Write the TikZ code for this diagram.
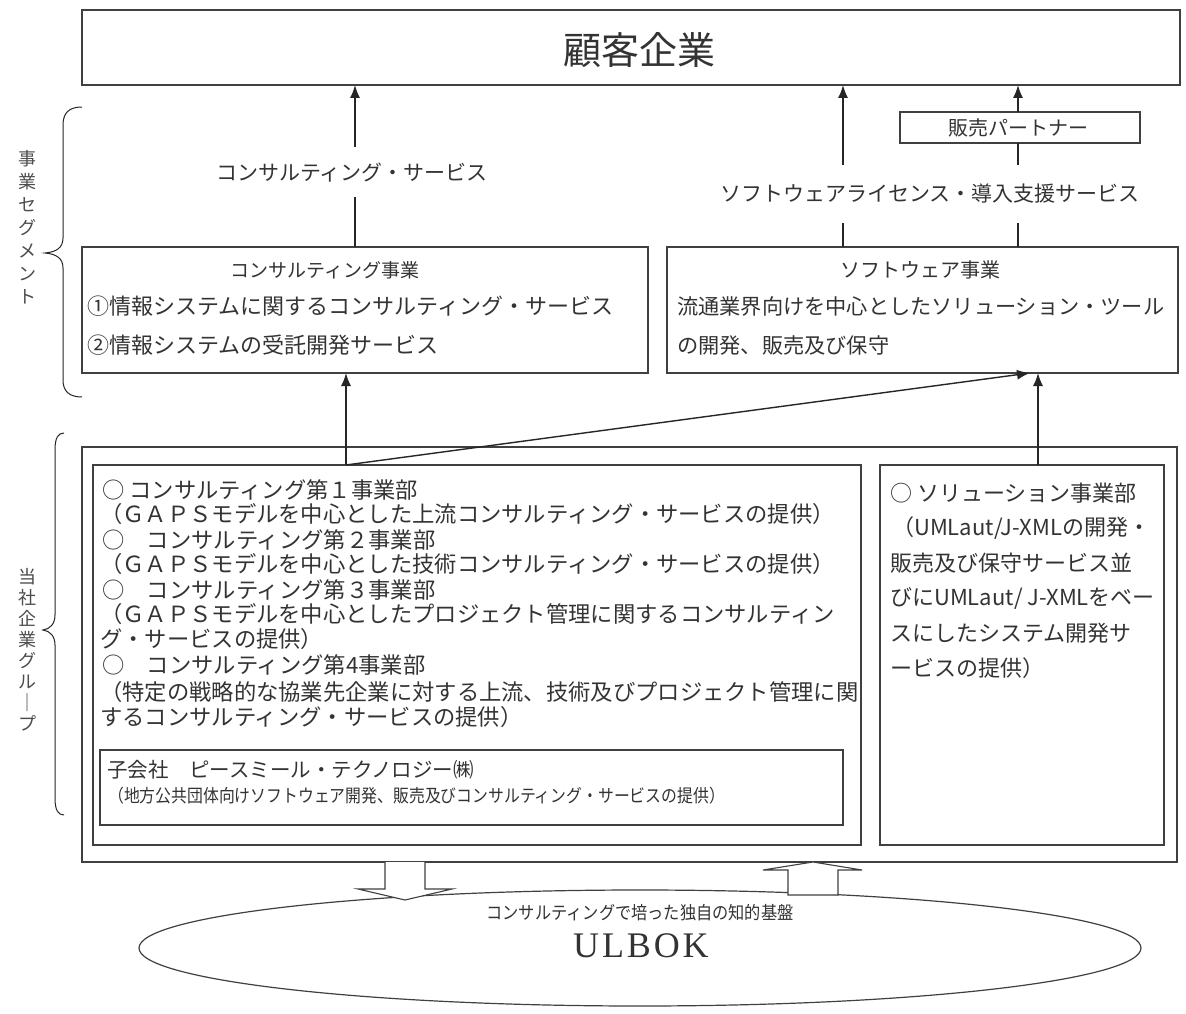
\documentclass[tikz,border=0pt]{standalone}
\usepackage{fontspec}
\usepackage{graphicx}
\setmainfont{Noto Sans CJK JP}
\newfontfamily\ulfont[LetterSpace=8]{Liberation Serif}
\usetikzlibrary{arrows.meta,shapes.geometric,calc}
\newcommand\fsz[1]{\fontsize{#1}{#1}\selectfont}
\tikzset{
  box/.style={draw=black!75, line width=1.3pt, inner sep=0pt, outer sep=0pt},
  txt/.style={text=black!80, inner sep=0pt, anchor=west},
  ctxt/.style={text=black!80, inner sep=0pt, anchor=center},
  ln/.style={draw=black!85, line width=1.4pt},
  arr/.style={ln, -{Latex[length=13pt,width=10pt]}},
  lbl/.style={text=black!80, inner sep=0pt, outer sep=0pt},
  hollow/.style={draw=black!75, line width=1.1pt, fill=white},
}
\begin{document}
\begin{tikzpicture}[x=1pt,y=-1pt]
\fill[white] (0,0) rectangle (1186,1014);
\useasboundingbox (0,0) rectangle (1186,1014);

% ---------- boxes ----------
\node[box, minimum width=1098, minimum height=75] (top) at (631,47.5) {};
\node[ctxt, font=\fsz{38}] (topt) at (639,50) {顧客企業};

\node[box, minimum width=240, minimum height=31] (partner) at (1020,127.5) {};
\node[ctxt, font=\fsz{20}] (partnert) at (1018,127.5) {販売パートナー};

\node[box, minimum width=566, minimum height=126] (cons) at (365,310) {};
\node[ctxt, font=\fsz{19}] (const) at (325,270) {コンサルティング事業};
\node[txt, font=\fsz{22}] (cons1) at (87,306) {①情報システムに関するコンサルティング・サービス};
\node[txt, font=\fsz{22}] (cons2) at (87,345) {②情報システムの受託開発サービス};

\node[box, minimum width=511, minimum height=126] (soft) at (922.5,310) {};
\node[ctxt, font=\fsz{20}] (softt) at (920,270) {ソフトウェア事業};
\node[txt, font=\fsz{21.2}] (soft1) at (677,306) {流通業界向けを中心としたソリューション・ツール};
\node[txt, font=\fsz{21.2}] (soft2) at (677,345) {の開発、販売及び保守};

\node[box, minimum width=1095, minimum height=415] (group) at (629.5,654.5) {};
\node[box, minimum width=768, minimum height=380] (inL) at (477,655) {};
\node[box, minimum width=284, minimum height=380] (inR) at (1022,655) {};
\node[box, minimum width=743, minimum height=75] (sub) at (471.5,787.5) {};

% ---------- left inner text ----------
\begin{scope}[every node/.style={txt, font=\fsz{22.3}}]
\node (l1) at (102,490) {○ コンサルティング第１事業部};
\node (l2) at (100,514) {（ＧＡＰＳモデルを中心とした上流コンサルティング・サービスの提供）};
\node (l3) at (102,540) {○　コンサルティング第２事業部};
\node (l4) at (100,564) {（ＧＡＰＳモデルを中心とした技術コンサルティング・サービスの提供）};
\node (l5) at (102,590) {○　コンサルティング第３事業部};
\node (l6) at (100,614) {（ＧＡＰＳモデルを中心としたプロジェクト管理に関するコンサルティン};
\node (l7) at (100,639) {グ・サービスの提供）};
\node (l8) at (102,665) {○　コンサルティング第4事業部};
\node (l9) at (100,692) {（特定の戦略的な協業先企業に対する上流、技術及びプロジェクト管理に関};
\node (l10) at (100,717) {するコンサルティング・サービスの提供）};
\end{scope}
\node[txt, font=\fsz{20.5}] (s1) at (107,770) {子会社　ピースミール・テクノロジー㈱};
\node[txt, font=\fsz{18}] (s2) at (108,796) {\scalebox{0.88}[1]{（地方公共団体向けソフトウェア開発、販売及びコンサルティング・サービスの提供）}};

% ---------- right inner text ----------
\begin{scope}[every node/.style={txt, font=\fsz{22}}]
\node (r1) at (890,493) {○ ソリューション事業部};
\node (r2) at (892,528) {（UMLaut/J-XMLの開発・};
\node (r3) at (890,563) {販売及び保守サービス並};
\node (r4) at (890,598) {びにUMLaut/ J-XMLをベー};
\node (r5) at (890,633) {スにしたシステム開発サ};
\node (r6) at (890,668) {ービスの提供）};
\end{scope}

% ---------- labels on connectors ----------
\node[lbl, font=\fsz{21}, minimum height=50] (lab1) at (352,172) {コンサルティング・サービス};
\node[lbl, font=\fsz{21}, minimum height=58] (lab2) at (930,194) {ソフトウェアライセンス・導入支援サービス};

% ---------- x positions ----------
\coordinate (xA) at (355,0);
\coordinate (xB) at (346,0);
\coordinate (xS) at (843,0);
\coordinate (xP) at (1018,0);
\coordinate (xC) at (1030,0);
\coordinate (xD) at (1038,0);

% ---------- connectors ----------
\draw[ln] (cons.north -| xA) -- (lab1.south -| xA);
\draw[arr] (lab1.north -| xA) -- (top.south -| xA);

\draw[ln] (soft.north -| xS) -- (lab2.south -| xS);
\draw[arr] (lab2.north -| xS) -- (top.south -| xS);

\draw[ln] (soft.north -| xP) -- (lab2.south -| xP);
\draw[ln] (lab2.north -| xP) -- (partner.south -| xP);
\draw[arr] (partner.north -| xP) -- (top.south -| xP);

\coordinate (src) at (inL.north -| xB);
\draw[arr] (src) -- (cons.south -| xB);
\draw[arr] (src) -- (soft.south -| xC);
\draw[arr] (inR.north -| xD) -- (soft.south -| xD);

% ---------- braces and vertical texts ----------
\draw[ln, line width=1pt] (82,107) .. controls (69,107) and (63,113) .. (63,125)
  -- (63,238) .. controls (63,248) and (56,252) .. (45,253)
  .. controls (56,254) and (63,258) .. (63,268)
  -- (63,380) .. controls (63,391) and (69,397) .. (82,397);
\node[ctxt, align=center, font={\fontsize{18}{23}\selectfont}, text=black!70] (segt) at (27,227) {事\\業\\セ\\グ\\メ\\ン\\ト};

\draw[ln, line width=1pt] (64,433) .. controls (58,433) and (55,438) .. (55,450)
  -- (55,615) .. controls (55,624) and (50,629) .. (43,630)
  .. controls (50,631) and (55,636) .. (55,645)
  -- (55,798) .. controls (55,810) and (58,815) .. (64,815);
\node[ctxt, align=center, font={\fontsize{18}{21}\selectfont}, text=black!70] (grpt) at (27,650) {当\\社\\企\\業\\グ\\ル\\｜\\プ};

% ---------- knowledge base ----------
\node[draw=black!75, line width=1.2pt, ellipse, minimum width=1002, minimum height=116, inner sep=0pt] (kb) at (640,948) {};
\node[ctxt, font=\fsz{18}] (kbt) at (640,913) {\scalebox{0.9}[1]{コンサルティングで培った独自の知的基盤}};
\node[ctxt, font={\ulfont\fontsize{36}{36}\selectfont}] (kbu) at (641,946) {ULBOK};

% ---------- hollow arrows ----------
\draw[hollow] (group.south -| 385,0) -- (385,889) -- (358,889) -- (405,900) -- (452,889) -- (425,889) -- (group.south -| 425,0);
\draw[hollow] (788,895) -- (788,870) -- (763,870) -- (group.south -| 813,0) -- (862,870) -- (838,870) -- (838,895) -- cycle;
\end{tikzpicture}
\end{document}
